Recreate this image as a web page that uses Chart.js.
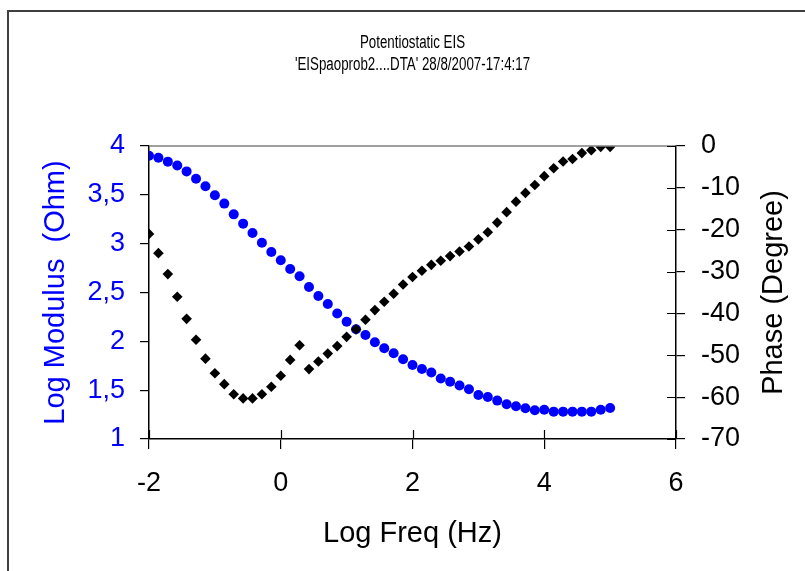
<!DOCTYPE html>
<html lang="en">
<head>
<meta charset="UTF-8">
<title>Potentiostatic EIS</title>
<script src="https://cdn.jsdelivr.net/npm/chart.js"></script>
<style>
  body {
    margin: 0;
    background: #fff;
  }
  #wrap {
    width: 805px;
    height: 571px;
  }
</style>
</head>
<body>
<div id="wrap"><canvas id="eis-chart" width="805" height="571"></canvas></div>

<script>
// measured points, 7 per decade
const logFreq = [
  -2, -1.857, -1.714, -1.571, -1.429, -1.286, -1.143, -1, -0.857, -0.714,
  -0.571, -0.429, -0.286, -0.143, 0, 0.143, 0.286, 0.429, 0.571, 0.714,
  0.857, 1, 1.143, 1.286, 1.429, 1.571, 1.714, 1.857, 2, 2.143,
  2.286, 2.429, 2.571, 2.714, 2.857, 3, 3.143, 3.286, 3.429, 3.571,
  3.714, 3.857, 4, 4.143, 4.286, 4.429, 4.571, 4.714, 4.857, 5
];
const logModulus = [
  3.90, 3.88, 3.84, 3.80, 3.74, 3.665, 3.587, 3.495, 3.41, 3.30,
  3.205, 3.11, 3.01, 2.915, 2.83, 2.74, 2.667, 2.557, 2.465, 2.383,
  2.285, 2.20, 2.124, 2.065, 1.99, 1.93, 1.878, 1.816, 1.758, 1.717,
  1.68, 1.62, 1.587, 1.547, 1.51, 1.45, 1.43, 1.393, 1.356, 1.335,
  1.315, 1.295, 1.30, 1.28, 1.28, 1.28, 1.28, 1.28, 1.30, 1.318
];
const phaseDeg = [
  -21.0, -25.6, -30.6, -36.0, -41.3, -46.3, -50.8, -54.3, -56.9, -59.3,
  -60.3, -60.3, -59.3, -57.5, -54.9, -51.1, -47.6, -53.3, -51.5, -49.6,
  -47.8, -45.6, -43.8, -41.5, -39.2, -37.2, -35.3, -33.1, -31.3, -29.8,
  -28.4, -27.4, -26.3, -25.2, -24.0, -22.3, -20.6, -18.3, -15.8, -13.3,
  -11.2, -9.3, -7.2, -5.3, -3.7, -3.1, -1.7, -1.0, -0.2, -0.2
];

const freqTicks = [-2, 0, 2, 4, 6];
const modulusTicks = ['1', '1,5', '2', '2,5', '3', '3,5', '4'];
const phaseTicks = [-70, -60, -50, -40, -30, -20, -10, 0];

const titleLines = ['Potentiostatic EIS', "'EISpaoprob2....DTA' 28/8/2007-17:4:17"];
const phaseTitle = 'Phase (Degree)';

const BLUE = '#0000ff';
const FAMILY = 'Arial, "Liberation Sans", sans-serif';
const tickFont = { family: FAMILY, size: 27 };
const titleFont = { family: FAMILY, size: 29, lineHeight: 1 };

// frame, heading, phase title and the inward half of the crossing ticks
const decor = {
  id: 'decor',
  beforeDraw(chart) {
    const ctx = chart.ctx;
    ctx.save();
    ctx.strokeStyle = '#404040';
    ctx.lineWidth = 2;
    ctx.beginPath();
    ctx.moveTo(8, 580);
    ctx.lineTo(8, 11);
    ctx.lineTo(820, 11);
    ctx.stroke();
    ctx.restore();
  },
  afterDraw(chart) {
    const ctx = chart.ctx;
    const area = chart.chartArea;
    ctx.save();
    ctx.strokeStyle = '#808080';
    ctx.lineWidth = 1.5;
    ctx.beginPath();
    ctx.moveTo(area.left, area.top);
    ctx.lineTo(area.right, area.top);
    ctx.stroke();

    ctx.strokeStyle = '#000';
    ctx.lineWidth = 1.2;
    ctx.beginPath();
    chart.scales.x.ticks.forEach(t => {
      const px = Math.round(chart.scales.x.getPixelForValue(t.value)) + 0.5;
      ctx.moveTo(px, area.bottom);
      ctx.lineTo(px, area.bottom - 9);
    });
    chart.scales.y2.ticks.forEach(t => {
      const py = Math.round(chart.scales.y2.getPixelForValue(t.value)) + 0.5;
      ctx.moveTo(area.right, py);
      ctx.lineTo(area.right - 9, py);
    });
    ctx.stroke();

    ctx.fillStyle = '#000';
    ctx.textAlign = 'center';
    ctx.textBaseline = 'middle';

    // narrow heading font
    const cx = (area.left + area.right) / 2;
    ctx.save();
    ctx.font = '18px ' + FAMILY;
    ctx.translate(cx, 0);
    ctx.scale(0.74, 1);
    ctx.fillText(titleLines[0], 0, 43);
    ctx.fillText(titleLines[1], 0, 65);
    ctx.restore();

    // right title reads bottom to top
    ctx.save();
    ctx.font = titleFont.size + 'px ' + FAMILY;
    ctx.translate(774, (area.top + area.bottom) / 2);
    ctx.rotate(-Math.PI / 2);
    ctx.fillText(phaseTitle, 0, 0);
    ctx.restore();

    ctx.restore();
  }
};

new Chart(document.getElementById('eis-chart'), {
  type: 'scatter',
  data: {
    datasets: [
      {
        label: 'Log Modulus',
        data: logFreq.map((f, i) => ({ x: f, y: logModulus[i] })),
        yAxisID: 'y',
        pointStyle: 'circle',
        pointRadius: 5,
        backgroundColor: BLUE,
        borderColor: BLUE,
        borderWidth: 0,
        order: 2
      },
      {
        label: 'Phase',
        data: logFreq.map((f, i) => ({ x: f, y: phaseDeg[i] })),
        yAxisID: 'y2',
        pointStyle: 'rectRot',
        pointRadius: 5.3,
        backgroundColor: '#000',
        borderColor: '#000',
        borderWidth: 0,
        order: 1
      }
    ]
  },
  options: {
    responsive: false,
    animation: false,
    layout: { padding: { top: 146, left: 0, right: 0, bottom: 0 } },
    plugins: {
      legend: { display: false },
      tooltip: { enabled: false }
    },
    scales: {
      x: {
        type: 'linear',
        min: freqTicks[0],
        max: freqTicks[freqTicks.length - 1],
        afterFit: s => { s.height = 132; },
        afterBuildTicks: s => { s.ticks = freqTicks.map(v => ({ value: v })); },
        grid: { drawOnChartArea: false, tickLength: 10, color: '#000', lineWidth: 1.2 },
        border: { color: '#000', width: 1.5 },
        ticks: { color: '#000', font: tickFont, padding: 18, maxRotation: 0 },
        title: { display: true, text: 'Log Freq (Hz)', color: '#000', font: titleFont, padding: { top: 0, bottom: 23 } }
      },
      y: {
        position: 'left',
        min: 1,
        max: 4,
        afterFit: s => { s.width = 149; },
        afterBuildTicks: s => { s.ticks = modulusTicks.map((t, i) => ({ value: 1 + i * 0.5 })); },
        grid: { drawOnChartArea: false, tickLength: 9, color: '#000', lineWidth: 1.2 },
        border: { color: '#000', width: 1.5 },
        ticks: {
          color: BLUE,
          font: tickFont,
          padding: 15,
          callback: (v, i) => modulusTicks[i]
        },
        title: { display: true, text: 'Log Modulus  (Ohm)', color: BLUE, font: titleFont, padding: { top: 41, bottom: 0 } }
      },
      y2: {
        position: 'right',
        min: phaseTicks[0],
        max: phaseTicks[phaseTicks.length - 1],
        afterFit: s => { s.width = 129; },
        afterBuildTicks: s => { s.ticks = phaseTicks.map(v => ({ value: v })); },
        grid: { drawOnChartArea: false, tickLength: 9, color: '#000', lineWidth: 1.2 },
        border: { color: '#000', width: 1.5 },
        ticks: { color: '#000', font: tickFont, padding: 16 },
        title: { display: false }
      }
    }
  },
  plugins: [decor]
});
</script>
</body>
</html>
